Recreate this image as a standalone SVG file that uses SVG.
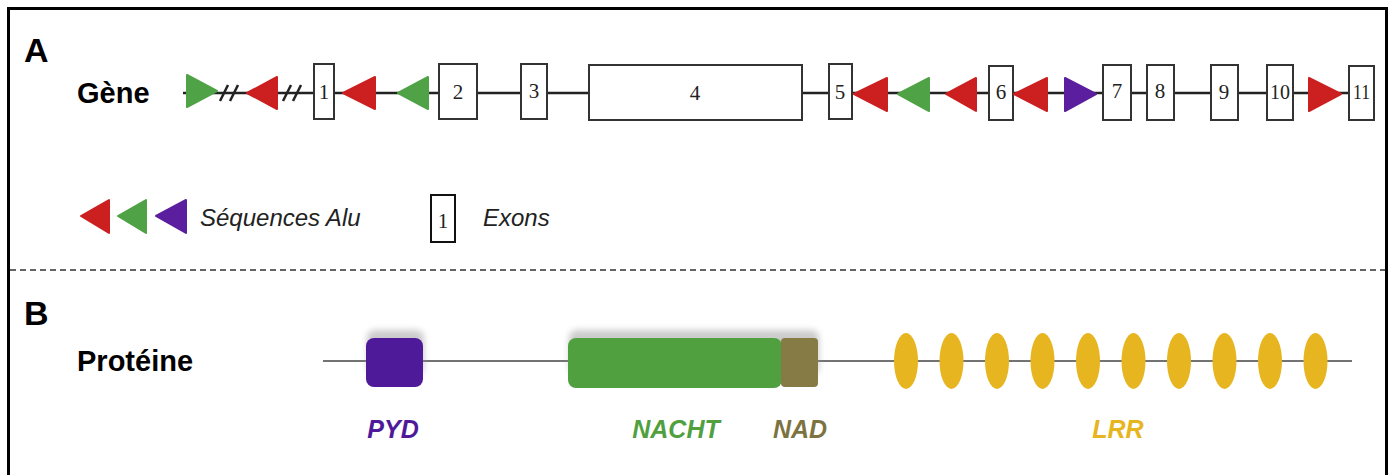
<svg xmlns="http://www.w3.org/2000/svg" width="1394" height="475" viewBox="0 0 1394 475">
<style>
.lbl{font-family:"Liberation Sans",Arial,sans-serif;font-weight:bold;fill:#000}
.big{font-family:"Liberation Sans",Arial,sans-serif;font-weight:bold;font-size:34px;fill:#000}
.leg{font-family:"Liberation Sans",Arial,sans-serif;font-style:italic;font-size:24px;fill:#222}
.num{font-family:"Liberation Serif","Times New Roman",serif;font-size:21px;fill:#222;text-anchor:middle}
.exon{fill:#fff;stroke:#333;stroke-width:2}
.red{fill:#cc1f1f;stroke:#cc1f1f;stroke-width:2;stroke-linejoin:round}
.green{fill:#4fa245;stroke:#4fa245;stroke-width:2;stroke-linejoin:round}
.purple{fill:#5a1e9e;stroke:#5a1e9e;stroke-width:2;stroke-linejoin:round}
.dom{font-family:"Liberation Sans",Arial,sans-serif;font-weight:bold;font-style:italic;font-size:25px;text-anchor:middle}
.lrr{fill:#e6b520}
</style>
<defs>
<filter id="sh" x="-20%" y="-50%" width="140%" height="200%"><feGaussianBlur stdDeviation="3"/></filter>
</defs>
<rect x="0" y="0" width="1394" height="475" fill="#fff"/>
<path d="M8.5 480 V8.5 H1386.5 V480" fill="none" stroke="#000" stroke-width="3"/>
<line x1="10" y1="270" x2="1385" y2="270" stroke="#333" stroke-width="1.5" stroke-dasharray="6 4"/>

<g id="panelA-labels">
<text class="big" x="24" y="62">A</text>
<text class="lbl" x="77" y="103" font-size="29">Gène</text>
</g>

<g id="connectors">
<line x1="183" y1="93" x2="1350" y2="93" stroke="#222" stroke-width="2.5"/>
<line x1="323" y1="361" x2="1352" y2="361" stroke="#444" stroke-width="1.5"/>
<g stroke="#222" stroke-width="2.5">
<line x1="220" y1="101" x2="228" y2="85"/>
<line x1="230" y1="101" x2="238" y2="85"/>
<line x1="283" y1="101" x2="291" y2="85"/>
<line x1="293" y1="101" x2="301" y2="85"/>
</g>
</g>

<g id="exons">
<g id="exon1"><rect class="exon" x="314" y="64" width="20" height="55"/><text class="num" x="324" y="99">1</text></g>
<g id="exon2"><rect class="exon" x="439" y="64" width="38" height="55"/><text class="num" x="458" y="99">2</text></g>
<g id="exon3"><rect class="exon" x="521" y="64" width="26" height="55"/><text class="num" x="534" y="98">3</text></g>
<g id="exon4"><rect class="exon" x="589" y="65" width="213" height="55"/><text class="num" x="695" y="100">4</text></g>
<g id="exon5"><rect class="exon" x="829" y="64" width="23" height="55"/><text class="num" x="840" y="99">5</text></g>
<g id="exon6"><rect class="exon" x="989" y="66" width="24" height="54"/><text class="num" x="1001" y="99">6</text></g>
<g id="exon7"><rect class="exon" x="1103" y="65" width="28" height="55"/><text class="num" x="1117" y="98">7</text></g>
<g id="exon8"><rect class="exon" x="1147" y="65" width="27" height="55"/><text class="num" x="1160" y="98">8</text></g>
<g id="exon9"><rect class="exon" x="1211" y="65" width="27" height="55"/><text class="num" x="1224" y="99">9</text></g>
<g id="exon10"><rect class="exon" x="1267" y="65" width="26" height="55"/><text class="num" x="1280" y="99" font-size="19" textLength="20" lengthAdjust="spacingAndGlyphs">10</text></g>
<g id="exon11"><rect class="exon" x="1349" y="66" width="25" height="54"/><text class="num" x="1361.5" y="99" font-size="19" textLength="17" lengthAdjust="spacingAndGlyphs">11</text></g>
</g>

<g id="alu">
<polygon class="green" points="187,75 217,91 187,107"/>
<polygon class="red" points="247,93 277,77 277,109"/>
<polygon class="red" points="343,93 375,77 375,109"/>
<polygon class="green" points="398,93 428,77 428,109"/>
<polygon class="red" points="854,94 887,78 887,111"/>
<polygon class="green" points="898,94 929,78 929,111"/>
<polygon class="red" points="946,94 976,78 976,111"/>
<polygon class="red" points="1014,94 1047,78 1047,111"/>
<polygon class="purple" points="1065,78 1096,94 1065,111"/>
<polygon class="red" points="1309,78 1341,94 1309,111"/>
</g>

<g id="legend">
<polygon class="red" points="81,216 109,200 109,233"/>
<polygon class="green" points="118,216 146,200 146,233"/>
<polygon class="purple" points="156,216 186,200 186,233"/>
<text class="leg" x="200" y="226">Séquences Alu</text>
<rect x="431" y="195" width="24" height="47" fill="#fff" stroke="#111" stroke-width="2"/>
<text class="num" x="443" y="228" font-size="24" fill="#111">1</text>
<text class="leg" x="483" y="226">Exons</text>
</g>

<g id="panelB-labels">
<text class="big" x="24" y="325" font-family="'Open Sans','Liberation Sans',sans-serif">B</text>
<text class="lbl" x="77" y="371" font-size="29">Protéine</text>
</g>

<g id="PYD">
<rect x="367" y="330" width="57" height="45" rx="8" fill="#999" opacity="0.5" filter="url(#sh)"/>
<rect x="366" y="338" width="57" height="49" rx="8" fill="#4e1a99"/>
<text class="dom" x="393" y="438" fill="#4e1a99">PYD</text>
</g>
<g id="NACHT">
<rect x="569" y="330" width="250" height="45" rx="8" fill="#999" opacity="0.5" filter="url(#sh)"/>
<rect x="568" y="338" width="214" height="50" rx="8" fill="#50a040"/>
<text class="dom" x="676" y="438" fill="#50a040">NACHT</text>
</g>
<g id="NAD">
<rect x="781" y="338" width="37" height="49" rx="4" fill="#867a45"/>
<text class="dom" x="800" y="438" fill="#7d7340">NAD</text>
</g>
<g id="LRR">
<ellipse class="lrr" cx="906" cy="361" rx="12" ry="28"/>
<ellipse class="lrr" cx="951.5" cy="361" rx="12" ry="28"/>
<ellipse class="lrr" cx="997" cy="361" rx="12" ry="28"/>
<ellipse class="lrr" cx="1042.5" cy="361" rx="12" ry="28"/>
<ellipse class="lrr" cx="1088" cy="361" rx="12" ry="28"/>
<ellipse class="lrr" cx="1133.5" cy="361" rx="12" ry="28"/>
<ellipse class="lrr" cx="1179" cy="361" rx="12" ry="28"/>
<ellipse class="lrr" cx="1224.5" cy="361" rx="12" ry="28"/>
<ellipse class="lrr" cx="1270" cy="361" rx="12" ry="28"/>
<ellipse class="lrr" cx="1315.5" cy="361" rx="12" ry="28"/>
<text class="dom" x="1118" y="438" fill="#e6b520">LRR</text>
</g>
</svg>
